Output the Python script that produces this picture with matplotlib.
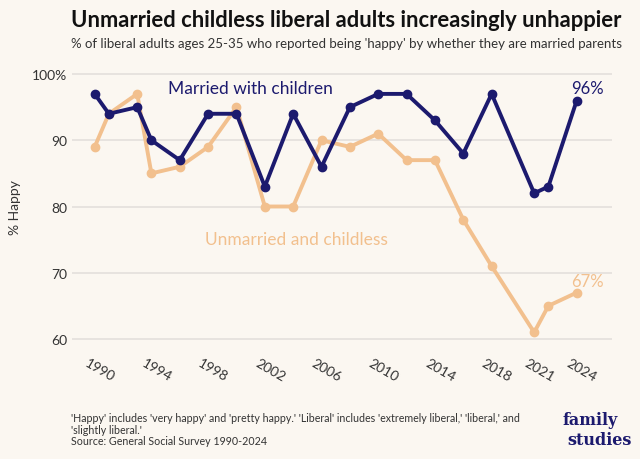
import matplotlib.pyplot as plt
from matplotlib.transforms import ScaledTranslation

years = [1990, 1991, 1993, 1994, 1996, 1998, 2000, 2002, 2004, 2006,
         2008, 2010, 2012, 2014, 2016, 2018, 2021, 2022, 2024]
married = [97, 94, 95, 90, 87, 94, 94, 83, 94, 86,
           95, 97, 97, 93, 88, 97, 82, 83, 96]
unmarried = [89, 94, 97, 85, 86, 89, 95, 80, 80, 90,
             89, 91, 87, 87, 78, 71, 61, 65, 67]
tick_years = [1990, 1994, 1998, 2002, 2006, 2010, 2014, 2018, 2021, 2024]
y_ticks = [60, 70, 80, 90, 100]
y_labels = ["60", "70", "80", "90", "100%"]

navy = "#1c1a6e"
orange = "#f2c08e"
bg = "#fbf7f1"
grey = "#333333"

plt.rcParams['font.family'] = ['Lato', 'DejaVu Sans']

fig = plt.figure(figsize=(6.4, 4.6), dpi=100, facecolor=bg)
ax = fig.add_axes([0.1125, 0.2465, 0.844, 0.6048], facecolor=bg)

ax.plot(years, unmarried, color=orange, lw=2.8, marker="o", ms=6, zorder=3,
        clip_on=False)
ax.plot(years, married, color=navy, lw=2.8, marker="o", ms=6, zorder=4,
        clip_on=False)

ax.set_xlim(1988.4, 2026.5)
ax.set_ylim(59, 101)
ax.set_yticks(y_ticks)
ax.set_yticklabels(y_labels)
ax.set_xticks(tick_years)
ax.set_xticklabels([str(y) for y in tick_years], rotation=-30, ha="center")
ax.tick_params(axis="both", length=0, labelsize=10, colors=grey)
ax.tick_params(axis="x", pad=8)
shift = ScaledTranslation(5 / 100, 0, fig.dpi_scale_trans)
for lbl in ax.get_xticklabels():
    lbl.set_transform(lbl.get_transform() + shift)
ax.grid(axis="y", color="#e3dfdc", lw=1.2)
ax.set_axisbelow(True)
for s in ax.spines.values():
    s.set_visible(False)
ax.set_ylabel("% Happy", fontsize=10, color=grey, labelpad=8)

ax.text(1995.2, 97.9, "Married with children", color=navy, fontsize=12.5, va="center")
ax.text(1997.8, 75.1, "Unmarried and childless", color=orange, fontsize=12.5, va="center")
ax.text(2023.6, 97.9, "96%", color=navy, fontsize=12, ha="left", va="center")
ax.text(2023.6, 68.8, "67%", color=orange, fontsize=12, ha="left", va="center")

fig.text(0.111, 0.956, "Unmarried childless liberal adults increasingly unhappier",
         fontsize=15.8, fontweight="bold", color="#111111", va="center")
fig.text(0.111, 0.904, "% of liberal adults ages 25-35 who reported being 'happy' by whether they are married parents",
         fontsize=9.5, color=grey, va="center")

fig.text(0.111, 0.065,
         "'Happy' includes 'very happy' and 'pretty happy.' 'Liberal' includes 'extremely liberal,' 'liberal,' and\n"
         "'slightly liberal.'\nSource: General Social Survey 1990-2024",
         fontsize=7.7, color=grey, va="center", linespacing=1.1)
fig.text(0.922, 0.086, "family", fontsize=11.5, fontweight="bold",
         family="DejaVu Serif", color=navy, ha="center", va="center")
fig.text(0.9375, 0.042, "studies", fontsize=11.5, fontweight="bold",
         family="DejaVu Serif", color=navy, ha="center", va="center")

fig.savefig("out.png", dpi=100, facecolor=bg)
